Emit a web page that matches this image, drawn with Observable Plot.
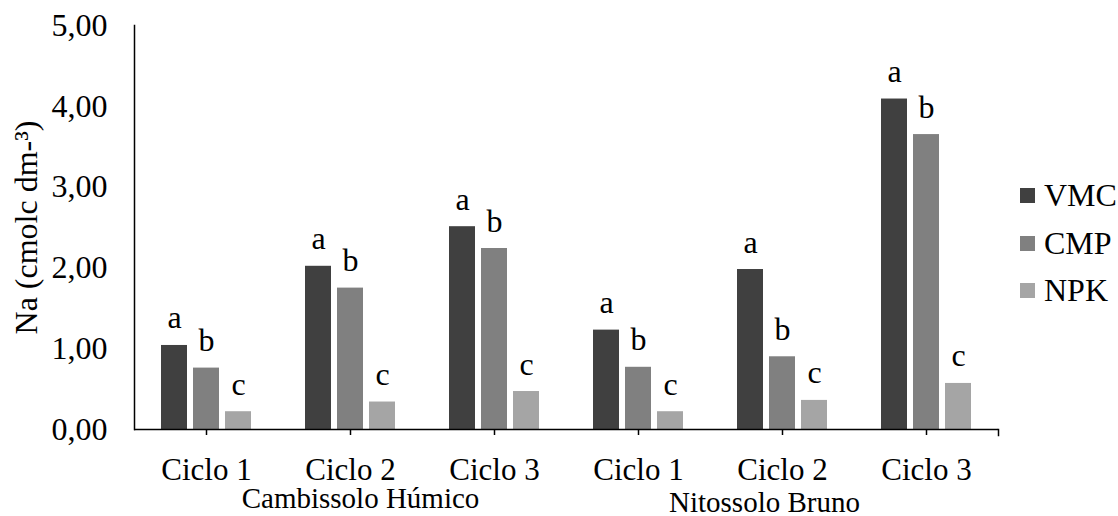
<!DOCTYPE html>
<html>
<head>
<meta charset="utf-8">
<script src="https://cdn.jsdelivr.net/npm/d3@7"></script>
<script src="https://cdn.jsdelivr.net/npm/@observablehq/plot@0.6"></script>
<style>
  html, body { margin: 0; padding: 0; background: #fff; }
  #wrap { position: relative; width: 1118px; height: 516px; font-family: "Liberation Serif", "Tinos", "DejaVu Serif", serif; }
  #legend { position: absolute; left: 1020px; top: 172px; }
  .row { display: flex; align-items: center; height: 47.5px; font-size: 32px; color: #000; }
  .sw { width: 15px; height: 15px; margin-right: 9px; }
</style>
</head>
<body>
<div id="wrap"><div id="legend"></div></div>
<script>
const soils = ["Cambissolo Húmico", "Nitossolo Bruno"];
const ciclos = ["Ciclo 1", "Ciclo 2", "Ciclo 3"];
const series = ["VMC", "CMP", "NPK"];
const colors = ["#404040", "#808080", "#a5a5a5"];
// values in order: Cambissolo C1..C3, Nitossolo C1..C3
const vmc = [1.04, 2.02, 2.51, 1.23, 1.98, 4.09];
const cmp = [0.76, 1.75, 2.24, 0.77, 0.90, 3.65];
const npk = [0.22, 0.34, 0.47, 0.22, 0.36, 0.57];
const lettersVMC = ["a", "a", "a", "a", "a", "a"];
const lettersCMP = ["b", "b", "b", "b", "b", "b"];
const lettersNPK = ["c", "c", "c", "c", "c", "c"];
const yTicks = [0, 1, 2, 3, 4, 5];
const yTitle = "Na (cmolc dm-³)";

const FONT = '"Liberation Serif", "Tinos", "DejaVu Serif", serif';

const keys = [];
soils.forEach(s => ciclos.forEach(c => keys.push(s + "|" + c)));
const valuesBySerie = [vmc, cmp, npk];
const lettersBySerie = [lettersVMC, lettersCMP, lettersNPK];
const rows = [];
keys.forEach((k, i) => series.forEach((s, j) => rows.push({key: k, serie: s, value: valuesBySerie[j][i], letter: lettersBySerie[j][i]})));

const fmt = d => d.toFixed(2).replace(".", ",");

const chart = Plot.plot({
  width: 1118, height: 516,
  marginLeft: 134, marginRight: 120, marginTop: 25, marginBottom: 87,
  style: {fontFamily: FONT, fontSize: "32px", color: "#000", background: "#fff", overflow: "visible"},
  fx: {domain: keys, padding: 0, label: null, axis: null},
  x: {domain: series, paddingInner: 0.1875, paddingOuter: 0.84, axis: null},
  y: {domain: [0, 5], label: null, axis: null},
  color: {domain: series, range: colors},
  marks: [
    Plot.barY(rows, {fx: "key", x: "serie", y: "value", fill: "serie"}),
    Plot.text(rows, {fx: "key", x: "serie", y: "value", text: "letter", dy: -17, lineAnchor: "bottom", fontSize: 32, fill: "#000"}),
    Plot.ruleY([0], {stroke: "#000", strokeWidth: 1.5}),
    Plot.frame({anchor: "left", facetAnchor: "left", stroke: "#000", strokeWidth: 1.5}),
    Plot.frame({anchor: "right", facetAnchor: "right", stroke: "#000", strokeWidth: 1.5, insetTop: 404, insetBottom: -6}),
    Plot.axisY({ticks: yTicks, tickSize: 0, tickPadding: 27, tickFormat: fmt, fontSize: 32, label: yTitle, labelAnchor: "center", labelOffset: 120, labelArrow: "none"}),
    Plot.axisFx({anchor: "bottom", tickSize: 6, tickPadding: 22, tickFormat: k => k.split("|")[1], fontSize: 31, label: null, stroke: "#000", strokeWidth: 1.5}),
    Plot.text([{key: soils[0] + "|" + ciclos[1], label: soils[0]}], {fx: "key", text: "label", frameAnchor: "bottom", dy: 78, dx: 10, lineAnchor: "bottom", fontSize: 29, fill: "#000"}),
    Plot.text([{key: soils[1] + "|" + ciclos[1], label: soils[1]}], {fx: "key", text: "label", frameAnchor: "bottom", dy: 82, dx: -18, lineAnchor: "bottom", fontSize: 29, fill: "#000"})
  ]
});
chart.querySelectorAll("text").forEach(t => t.setAttribute("font-family", FONT));
document.getElementById("wrap").prepend(chart);

const legend = document.getElementById("legend");
series.forEach((s, i) => {
  const row = document.createElement("div");
  row.className = "row";
  const sw = document.createElement("div");
  sw.className = "sw";
  sw.style.background = colors[i];
  const t = document.createElement("span");
  t.textContent = s;
  row.appendChild(sw);
  row.appendChild(t);
  legend.appendChild(row);
});
</script>
</body>
</html>
